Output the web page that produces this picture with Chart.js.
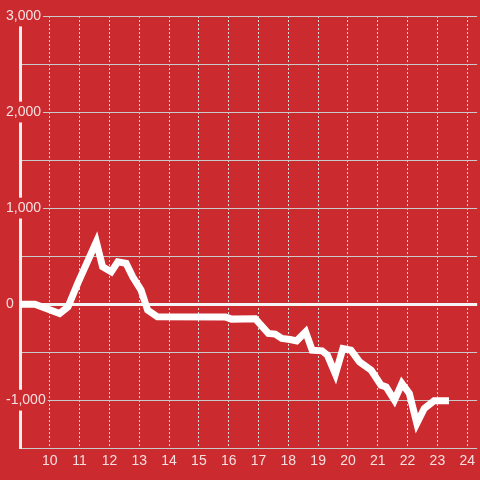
<!DOCTYPE html>
<html>
<head>
<meta charset="utf-8">
<script src="https://cdn.jsdelivr.net/npm/chart.js@4/dist/chart.umd.min.js"></script>
<style>
  html, body { margin: 0; padding: 0; background: #cb2a2f; }
  #grafica { display: block; }
</style>
</head>
<body>
<canvas id="grafica" width="480" height="480"></canvas>
<script>
  // horas del dia (eje x) y valores
  const horas = [9.0, 9.5, 10.33, 10.61, 10.94, 11.56, 11.77, 12.06, 12.28, 12.56, 12.78, 13.06, 13.28, 13.61,
                 15.9, 16.1, 16.89, 17.33, 17.56, 17.78, 18.06, 18.28, 18.58, 18.8, 19.13, 19.31, 19.58, 19.83,
                 20.1, 20.39, 20.78, 21.11, 21.28, 21.56, 21.81, 22.06, 22.31, 22.56, 22.89, 23.39];
  const valores = [0, 0, -97, -28, 219, 649, 389, 336, 441, 424, 284, 146, -62, -132,
                   -135, -156, -152, -305, -312, -357, -368, -382, -288, -479, -486, -531, -729, -462,
                   -479, -601, -688, -844, -861, -1000, -826, -930, -1243, -1087, -1007, -1007];
  const ticksX = [10, 11, 12, 13, 14, 15, 16, 17, 18, 19, 20, 21, 22, 23, 24];
  const ticksY = [-1500, -1000, -500, 0, 500, 1000, 1500, 2000, 2500, 3000];

  const rojo = '#cb2a2f';
  const colorTexto = 'rgba(255,255,255,0.85)';
  const fuente = { family: 'Liberation Sans, Arial, sans-serif', size: 14 };

  const puntos = horas.map((h, i) => ({ x: h, y: valores[i] }));

  const grafica = new Chart(document.getElementById('grafica'), {
    type: 'line',
    data: {
      datasets: [{
        data: puntos,
        borderColor: '#ffffff',
        borderWidth: 7,
        borderCapStyle: 'butt',
        borderJoinStyle: 'miter',
        pointRadius: 0,
        tension: 0,
        fill: false
      }]
    },
    options: {
      responsive: false,
      animation: false,
      layout: { padding: { left: 6, top: 16, right: 0, bottom: 5 } },
      plugins: { legend: { display: false }, tooltip: { enabled: false } },
      scales: {
        x: {
          type: 'linear',
          min: 9,
          max: 24 + 1 / 3,
          afterBuildTicks: scale => { scale.ticks = ticksX.map(v => ({ value: v })); },
          ticks: { color: colorTexto, font: fuente, padding: 5, maxRotation: 0, autoSkip: false },
          grid: { color: '#dcdcdc', lineWidth: 1, drawTicks: false },
          border: { display: false, dash: [2, 2] }
        },
        y: {
          min: -1500,
          max: 3000,
          afterBuildTicks: scale => { scale.ticks = ticksY.map(v => ({ value: v })); },
          afterFit: scale => { scale.width = 14; },
          ticks: {
            color: colorTexto,
            font: fuente,
            mirror: true,
            padding: -14,
            crossAlign: 'near',
            callback: v => (v % 1000 === 0 ? v.toLocaleString('en-US') : ''),
            showLabelBackdrop: ctx => ctx.tick && ctx.tick.value % 1000 === 0,
            backdropColor: rojo,
            backdropPadding: 2
          },
          grid: {
            color: ctx => (ctx.tick && ctx.tick.value === 0 ? '#f4f4f4' : '#c9c9c9'),
            lineWidth: ctx => (ctx.tick && ctx.tick.value === 0 ? 3 : 1),
            drawTicks: false
          },
          border: { display: true, color: '#eeeeee', width: 3 }
        }
      }
    }
  });
</script>
</body>
</html>
